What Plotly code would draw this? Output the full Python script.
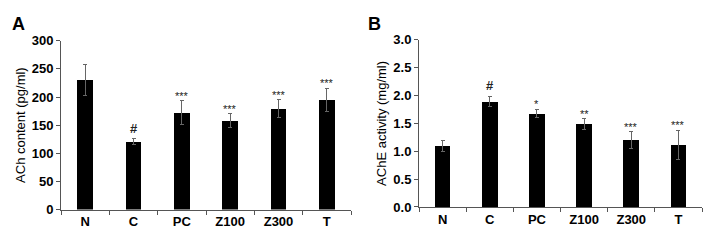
import plotly.graph_objects as go

groups = ["N", "C", "PC", "Z100", "Z300", "T"]

ach_mean = [230, 121, 172, 158, 179, 195]
ach_err = [27, 5, 21, 12, 16, 21]
ach_sig = ["", "#", "***", "***", "***", "***"]

ache_mean = [1.09, 1.89, 1.68, 1.49, 1.20, 1.11]
ache_err = [0.10, 0.095, 0.073, 0.095, 0.146, 0.264]
ache_sig = ["", "#", "*", "**", "***", "***"]

FONT = "Arial, Liberation Sans, sans-serif"
W, H = 703, 240

fig = go.Figure()

fig.add_trace(go.Bar(
    x=groups, y=ach_mean, width=0.33,
    marker=dict(color="black", line=dict(width=0)),
    error_y=dict(type="data", array=ach_err, visible=True,
                 color="#666666", thickness=1, width=2),
    xaxis="x", yaxis="y", showlegend=False))

fig.add_trace(go.Bar(
    x=groups, y=ache_mean, width=0.33,
    marker=dict(color="black", line=dict(width=0)),
    error_y=dict(type="data", array=ache_err, visible=True,
                 color="#666666", thickness=1, width=2),
    xaxis="x2", yaxis="y2", showlegend=False))

annotations = []
for xr, yr, means, errs, sigs in [("x", "y", ach_mean, ach_err, ach_sig),
                                  ("x2", "y2", ache_mean, ache_err, ache_sig)]:
    for g, m, e, s in zip(groups, means, errs, sigs):
        if s:
            hash_ = s == "#"
            annotations.append(dict(
                x=g, y=m + e, xref=xr, yref=yr,
                text="<b>#</b>" if hash_ else s, showarrow=False,
                yanchor="bottom", yshift=1 if hash_ else -3,
                font=dict(family=FONT, size=13 if hash_ else 11, color="#222222")))

annotations.append(dict(x=10 / W, y=1 - 5 / H, xref="paper", yref="paper",
                        text="<b>A</b>", showarrow=False, xanchor="left", yanchor="top",
                        font=dict(family=FONT, size=18, color="black")))
annotations.append(dict(x=366 / W, y=1 - 5 / H, xref="paper", yref="paper",
                        text="<b>B</b>", showarrow=False, xanchor="left", yanchor="top",
                        font=dict(family=FONT, size=18, color="black")))

xcommon = dict(type="category", showline=True, linecolor="#555555", linewidth=1,
               ticks="outside", ticklen=4, tickcolor="#555555", tickson="boundaries",
               tickfont=dict(family=FONT, size=13, color="black"),
               showgrid=False, zeroline=False, fixedrange=True)
ycommon = dict(showline=True, linecolor="#555555", linewidth=1,
               ticks="outside", ticklen=4, tickcolor="#555555",
               showgrid=False, zeroline=False)

yA = [0, 50, 100, 150, 200, 250, 300]
yB = [0, 0.5, 1.0, 1.5, 2.0, 2.5, 3.0]

fig.update_layout(
    width=W, height=H, margin=dict(l=0, r=0, t=0, b=0),
    paper_bgcolor="white", plot_bgcolor="white",
    font=dict(family=FONT, color="black"),
    bargap=0,
    xaxis=dict(domain=[61 / W, 351 / W], anchor="y",
               range=[-0.5, 5.5],
               tickvals=groups, ticktext=["<b>%s</b>" % g for g in groups], **xcommon),
    yaxis=dict(domain=[1 - 216 / H, 1 - 36 / H], anchor="x", range=[0, 300],
               tickvals=yA, ticktext=["<b>%d</b>" % v for v in yA],
               tickfont=dict(family=FONT, size=13, color="black"),
               title=dict(text="ACh content (pg/ml)", standoff=3,
                          font=dict(family=FONT, size=13, color="black")),
               **ycommon),
    xaxis2=dict(domain=[419 / W, 702 / W], anchor="y2",
                range=[-0.5, 5.5],
                tickvals=groups, ticktext=["<b>%s</b>" % g for g in groups], **xcommon),
    yaxis2=dict(domain=[1 - 213.3 / H, 1 - 35 / H], anchor="x2", range=[0, 3],
                tickvals=yB, ticktext=["<b>%.1f</b>" % v for v in yB],
                tickfont=dict(family=FONT, size=13, color="black"),
                title=dict(text="AChE activity (mg/ml)", standoff=3,
                           font=dict(family=FONT, size=13, color="black")),
                **ycommon),
    annotations=annotations,
)

fig.write_html("out.html")
